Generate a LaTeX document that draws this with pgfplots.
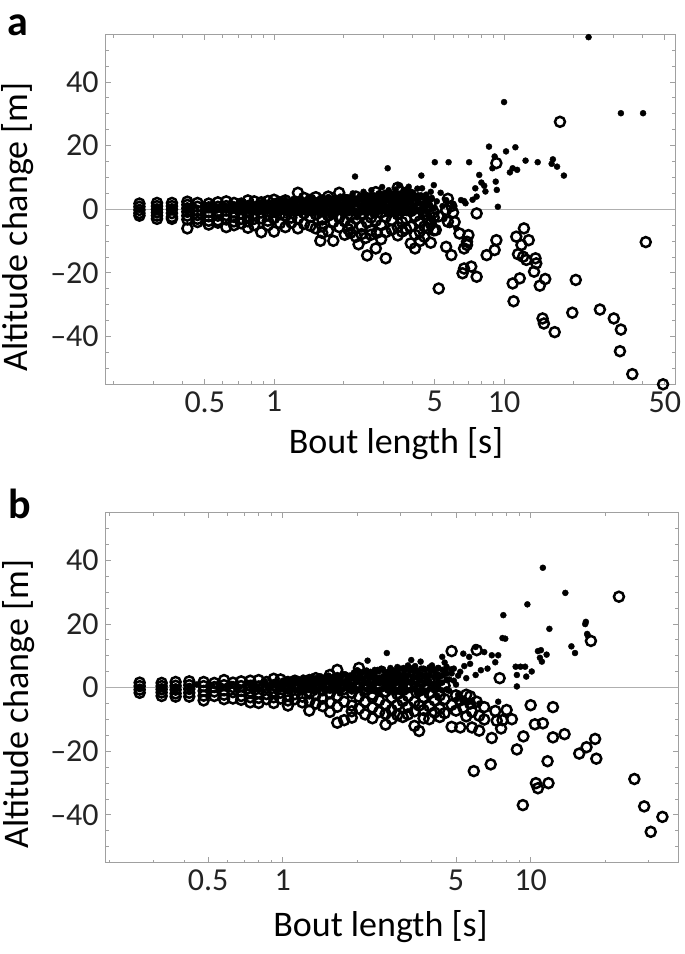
\documentclass[border=0pt]{standalone}
\usepackage{fontspec}
\setmainfont{Carlito}
\usepackage{pgfplots}
\pgfplotsset{compat=1.18}
\definecolor{framegray}{RGB}{160,160,160}
\definecolor{zerogray}{RGB}{175,175,175}
\definecolor{ticklab}{RGB}{35,35,35}
\begin{document}
\begin{tikzpicture}
\path[use as bounding box] (0,0) rectangle (342.5pt,-477pt);
\node[font=\bfseries\fontsize{21}{21}\selectfont, anchor=center] at (9pt,-12.5pt) {a};
\node[font=\bfseries\fontsize{21}{21}\selectfont, anchor=center] at (9.8pt,-252pt) {b};
% ---------------- panel a ----------------
\begin{axis}[scale only axis, height=175pt, width=284.7pt,
    at={(52.85pt,-17.15pt)}, anchor=north west,
    xmode=log, ymin=-55, ymax=55, xmin=0.1855, xmax=55.4,
    axis line style={framegray, line width=0.6pt},
    tick style={framegray, line width=0.5pt},
    tick align=inside,
    major tick length=2.7pt, minor tick length=1.6pt,
    xtick={0.5,1,5,10,50}, xticklabels={0.5,1,5,10,50},
    minor xtick={0.2,0.3,0.4,0.6,0.7,0.8,0.9,2,3,4,6,7,8,9,20,30,40},
    ytick={-40,-20,0,20,40}, yticklabels={\textendash40,\textendash20,0,20,40},
    minor ytick={-55,-50,-45,-35,-30,-25,-15,-10,-5,5,10,15,25,30,35,45,50,55},
    tick label style={font=\fontsize{16}{16}\selectfont, text=ticklab},
    label style={font=\fontsize{18}{18}\selectfont},
    xlabel={Bout length [s]}, ylabel={Altitude change [m]},
    ylabel style={at={(axis description cs:-0.154,0.450)}, anchor=center},
    xlabel style={at={(axis description cs:0.510,-0.199)}, anchor=base}]
\addplot[zerogray, line width=0.7pt, forget plot] coordinates {(0.01,0) (1000,0)};
\addplot[only marks, mark=o, mark size=2.5pt, mark options={line width=1.25pt, draw=black}] coordinates {
(0.26,1.8)(0.26,0.8)(0.26,-0.2)(0.26,-1.2)(0.26,-2.0)
(0.31,2.0)(0.31,1.0)(0.31,0.0)(0.31,-1.0)(0.31,-2.0)(0.31,-3.0)
(0.36,2.0)(0.36,1.0)(0.36,0.0)(0.36,-1.2)(0.36,-2.4)(0.36,-3.0)
(0.42,2.4)(0.42,1.4)(0.42,0.3)(0.42,-0.8)(0.42,-2.0)(0.42,-3.2)(0.42,-6.0)
(0.465,2.0)(0.465,0.8)(0.465,-0.5)(0.465,-1.8)(0.465,-3.0)(0.465,-4.0)
(0.52,1.8)(0.52,0.6)(0.52,-0.8)(0.52,-2.2)(0.52,-3.6)(0.52,-4.8)
(0.57,2.2)(0.57,0.8)(0.57,-0.6)(0.57,-2.0)(0.57,-3.5)(0.57,-4.2)
(0.62,2.5)(0.62,1.0)(0.62,-0.4)(0.62,-1.8)(0.62,-3.2)(0.62,-5.6)
(0.67,2.0)(0.67,0.6)(0.67,-1.0)(0.67,-2.4)(0.67,-3.8)(0.67,-5.0)
(0.72,1.8)(0.72,0.2)(0.72,-1.4)(0.72,-3.0)(0.72,-4.4)
(0.77,2.8)(0.77,1.0)(0.77,-0.6)(0.77,-2.2)(0.77,-3.8)(0.77,-5.8)
(0.82,2.5)(0.82,0.4)(0.82,-1.4)(0.82,-3.0)(0.82,-5.0)
(0.88,2.2)(0.88,0.6)(0.88,-1.0)(0.88,-2.8)(0.88,-7.2)
(0.94,2.6)(0.94,0.2)(0.94,-1.8)(0.94,-3.6)(0.94,-5.0)
(1.0,3.0)(1.0,1.0)(1.0,-0.8)(1.0,-2.8)(1.0,-7.0)
(1.06,2.2)(1.06,0.2)(1.06,-1.6)(1.06,-4.4)
(1.12,2.8)(1.12,0.6)(1.12,-2.0)(1.12,-5.6)
(1.19,1.6)(1.19,-0.4)(1.19,-2.6)(1.19,-4.2)
(1.27,5.2)(1.27,2.0)(1.27,-0.2)(1.27,-3.0)(1.27,-6.0)
(1.35,3.6)(1.35,0.8)(1.35,-1.2)(1.35,-4.6)
(1.44,3.0)(1.44,-0.2)(1.44,-2.4)(1.44,-5.2)
(1.52,3.8)(1.52,0.6)(1.52,-1.6)(1.52,-6.0)(1.59,-9.9)
(1.62,2.8)(1.62,-0.6)(1.62,-3.2)(1.62,-5.4)(1.62,-7.4)
(1.72,4.0)(1.72,1.0)(1.72,-2.0)(1.72,-6.8)
(1.81,2.4)(1.81,-1.2)(1.81,-4.0)(1.81,-9.9)
(1.92,5.2)(1.92,1.6)(1.92,-2.6)(1.92,-5.6)
(2.03,3.0)(2.03,-0.4)(2.03,-3.8)(2.03,-8.0)(2.1,-6.2)
(2.15,2.0)(2.15,-1.8)(2.15,-5.0)(2.15,-7.4)
(2.27,4.0)(2.27,0.4)(2.27,-3.0)(2.27,-8.6)(2.33,-11.0)
(2.4,2.6)(2.4,-1.4)(2.4,-5.4)(2.4,-7.8)
(2.54,3.4)(2.54,-0.2)(2.54,-4.2)(2.54,-14.5)(2.5,-9.0)
(2.64,1.0)(2.64,-2.6)(2.64,-6.6)(2.64,-8.0)
(2.77,5.4)(2.77,0.6)(2.77,-3.6)(2.77,-12.3)(2.8,-7.4)
(2.92,2.2)(2.92,-1.0)(2.92,-5.0)(2.92,-9.4)
(3.06,-15.4)(3.06,-2.4)(3.06,-7.2)(3.06,1.6)
(3.25,4.0)(3.25,0.2)(3.25,-3.4)(3.25,-6.4)
(3.45,6.8)(3.45,2.4)(3.45,-1.6)(3.45,-5.6)(3.45,-8.2)
(3.6,3.6)(3.6,-0.4)(3.6,-4.0)(3.6,-7.0)
(3.75,5.2)(3.75,1.2)(3.75,-3.0)(3.75,-6.2)
(3.93,4.6)(3.93,-0.6)(3.93,-10.7)(3.93,-5.4)
(4.1,2.6)(4.1,-2.2)(4.1,-12.3)(4.1,-8.0)
(4.3,1.0)(4.3,-3.8)(4.3,-7.0)(4.3,-10.0)
(4.5,3.0)(4.5,-1.6)(4.5,-5.4)(4.5,-8.6)
(4.67,0.6)(4.67,-3.2)(4.67,-6.0)
(4.8,2.0)(4.8,-4.6)(4.8,-10.5)
(4.95,-1.0)(4.95,-6.6)(4.95,-2.6)
(5.05,-6.5)(5.2,-24.9)(5.2,-2.2)(5.6,-0.2)(5.6,-11.8)(5.7,3.3)(5.7,-3.9)
(5.9,-14.4)(5.9,1.0)(6.0,-1.0)(6.1,-4.0)(6.4,-7.6)(6.6,-20.1)(6.7,-18.6)
(6.7,-12.3)(6.9,-11.2)(6.9,-10.2)(7.0,-8.1)(7.2,-18.0)(7.6,-21.2)(7.6,-1.3)
(8.4,-14.4)(9.1,-12.8)(9.26,-9.7)(9.26,14.5)(11.0,-28.9)(10.9,-23.3)
(11.3,-8.6)(11.5,-14.1)(11.7,-21.7)(11.9,-11.2)(12.1,-14.9)(12.2,-6.0)
(12.5,-15.9)(12.8,-9.7)(13.5,-19.6)(13.7,-15.4)(13.8,-17.0)(14.3,-24.0)
(14.7,-34.3)(14.9,-35.9)(15.1,-21.9)(16.6,-38.6)(17.5,27.5)(19.8,-32.5)
(20.5,-22.2)(26.1,-31.5)(30.0,-34.3)(32.2,-37.8)(31.9,-44.6)(36.1,-51.8)
(41.3,-10.3)(49.1,-55.0)
};
\addplot[only marks, mark=*, mark size=1.5pt, mark options={draw=black, fill=black, line width=0.2pt}] coordinates {
(0.26,0)(0.31,0.3)(0.31,-0.5)(0.36,0.5)(0.36,-0.3)(0.42,0.6)(0.42,-0.4)
(0.45,1)(0.5,1.5)(0.5,0.5)(0.55,1)(0.55,-0.5)(0.6,0)(0.6,1.5)(0.65,0.5)(0.65,2)
(0.7,1)(0.7,-0.5)(0.75,1.5)(0.75,-1)(0.8,0)(0.8,2)(0.85,1)(0.85,-0.8)(0.9,-0.5)
(0.9,1.5)(0.95,0.5)(0.95,2.2)(1.0,1)(1.0,-1)(1.05,2)(1.05,-0.3)(1.1,0)(1.1,1)
(1.15,-1.5)(1.15,2.2)(1.2,1.5)(1.2,0)(1.25,2.5)(1.25,0.5)(1.3,-1)(1.3,1)(1.35,0)
(1.35,2.8)(1.4,2)(1.45,-1)(1.45,1.5)(1.5,1)(1.5,3)(1.55,-0.5)(1.55,2)(1.6,2)
(1.65,0)(1.65,3.2)(1.7,1.5)(1.7,-0.8)(1.75,-2)(1.8,3)(1.8,1)(1.85,0.5)(1.9,2)
(1.9,-0.5)(1.95,-1)(2.0,4)(2.0,1)(2.0,-2)(2.1,2.5)(2.1,0.5)(2.15,0)(2.2,5)
(2.2,1.5)(2.25,10.3)(2.3,1.5)(2.3,-2.5)(2.35,3.5)(2.4,-1)(2.4,3)(2.45,5.5)
(2.5,2)(2.5,-0.5)(2.55,0.5)(2.6,4)(2.6,1.5)(2.65,6)(2.7,1)(2.7,-2)(2.75,3)
(2.8,-1)(2.8,2.5)(2.85,5)(2.9,2)(2.9,0)(2.95,7)(3.0,0.5)(3.0,3)(3.05,4)(3.1,-1.5)
(3.12,12.9)(3.15,6)(3.2,2.5)(3.2,5)(3.3,-0.5)(3.3,1.5)(3.35,5)(3.4,3)(3.4,-2)
(3.5,7.5)(3.5,4)(3.55,1)(3.6,4)(3.6,0.5)(3.7,6)(3.7,2.5)(3.75,2)(3.8,-1)(3.8,4.5)
(3.85,7.1)(3.9,3)(3.9,-1)(4.0,5)(4.0,1.5)(4.1,1)(4.2,6.5)(4.2,3)(4.3,0)(4.37,10.6)
(4.4,6.6)(4.4,-2.5)(4.5,2)(4.6,4)(4.6,1)(4.7,-2)(4.8,3)(4.8,5.5)(4.9,-4)(4.95,7.6)
(0.52,0.2)(0.54,1.8)(0.58,0.8)(0.62,-0.3)(0.66,1.2)(0.68,0.2)(0.72,2.2)(0.74,0.4)
(0.78,1)(0.8,-0.8)(0.83,1.6)(0.87,0.2)(0.89,2.4)(0.92,0.8)(0.97,-0.2)(0.99,1.8)
(1.03,0.6)(1.08,1.4)(1.09,-0.8)(1.13,0.4)(1.17,1.2)(1.22,-0.6)(1.24,1.8)(1.28,0.4)
(1.32,2.2)(1.37,-0.4)(1.39,1.2)(1.42,0.2)(1.47,2.4)(1.49,-1.4)(1.52,0.4)(1.57,1.2)
(1.58,-1.8)(1.62,0.6)(1.67,2.2)(1.69,-0.2)(1.73,3.8)(1.77,0.4)(1.79,2.2)(1.83,-1.2)
(1.87,2.8)(1.92,0.6)(1.97,3.4)(1.99,-0.4)(2.04,1.8)(2.08,3.2)(2.12,-1.2)(2.17,2.2)
(2.19,0.8)(2.24,3.2)(2.28,-0.6)(2.32,2.4)(2.37,0.8)(2.42,4.2)(2.44,0.2)(2.48,2.8)
(2.52,-1.6)(2.57,3.4)(2.62,0.2)(2.68,2.4)(2.72,4.4)(2.78,0.4)(2.82,1.6)(2.88,3.8)
(2.93,-0.6)(2.98,1.8)(3.03,5.2)(3.08,0.6)(3.13,2.8)(3.18,-0.8)(3.22,3.8)(3.28,0.8)
(3.32,2.2)(3.38,6.2)(3.43,0.2)(3.48,2.2)(3.52,-1.2)(3.58,3.2)(3.63,1.6)(3.68,4.6)
(3.73,-0.2)(3.78,1.4)(3.83,3.2)(3.88,5.6)(3.95,0.4)(4.05,3.2)(4.15,-0.6)(4.25,2.2)
(4.35,4.4)(4.45,0.6)(4.55,3)(4.65,-0.8)(4.75,1.4)(4.85,3.6)(4.92,0.2)
(5.0,14.8)(5.0,0.5)(5.1,2.5)(5.3,5.2)(5.4,1)(5.5,-3)(5.6,2.9)(5.74,14.8)(5.8,-5)
(6.0,1.5)(6.2,-6)(6.5,2.9)(6.7,2.6)(6.8,1.9)(7.05,14.8)(7.3,3)(7.5,6.6)(7.6,4.0)
(7.8,10.8)(7.97,8.4)(8.2,7.4)(8.3,5.6)(8.6,19.7)(8.9,12.9)(9.1,16.6)(9.2,8.7)
(9.3,6.1)(9.4,0.8)(10.0,33.7)(10.2,18.2)(10.6,11.6)(10.9,12.9)(11.2,19.5)
(11.4,12.4)(12.4,15.3)(14.0,14.8)(16.1,14.3)(16.3,15.7)(17.0,13.4)(18.2,10.6)
(23.3,54.1)(32.2,30.2)(40.2,30.2)
};
\addplot[only marks, mark=*, mark size=1.5pt, mark options={draw=black, fill=black, line width=0.2pt}] coordinates {
(0.50,-0.3)(0.50,1.2)(0.53,-0.1)(0.53,1.4)(0.56,-0.5)(0.56,1.0)(0.59,-0.2)(0.59,1.5)
(0.62,-0.4)(0.62,1.1)(0.65,-0.1)(0.65,1.6)(0.68,-0.6)(0.68,1.2)(0.71,-0.2)(0.71,1.4)
(0.74,-0.5)(0.74,1.0)(0.77,-0.1)(0.77,1.7)(0.81,-0.4)(0.81,1.2)(0.84,-0.2)(0.84,1.5)
(0.88,-0.6)(0.88,1.1)(0.92,-0.1)(0.92,1.6)(0.96,-0.4)(0.96,1.3)
(1.00,-0.6)(1.00,1.2)(1.00,2.6)(1.04,-0.2)(1.04,1.6)(1.04,2.2)(1.08,-0.9)(1.08,0.8)(1.08,2.8)
(1.12,-0.4)(1.12,1.4)(1.12,3.0)(1.17,-0.7)(1.17,1.0)(1.17,2.4)(1.21,-0.1)(1.21,1.8)(1.21,3.2)
(1.26,-0.8)(1.26,0.6)(1.26,2.8)(1.31,-0.3)(1.31,1.4)(1.31,3.4)(1.36,-1.0)(1.36,1.0)(1.36,2.6)
(1.42,-0.5)(1.42,1.6)(1.42,3.2)(1.47,-0.2)(1.47,0.8)(1.47,3.6)(1.53,-0.9)(1.53,1.2)(1.53,2.8)
(1.59,-0.4)(1.59,1.8)(1.59,3.4)(1.66,-1.1)(1.66,0.6)(1.66,3.0)(1.72,-0.6)(1.72,1.4)(1.72,3.8)
(1.79,-0.2)(1.79,1.0)(1.79,3.2)(1.86,-0.9)(1.86,1.8)(1.86,3.6)(1.94,-0.5)(1.94,1.2)(1.94,4.0)
(2.01,-1.2)(2.01,0.8)(2.01,3.2)(2.09,-0.3)(2.09,1.6)(2.09,3.8)(2.18,-0.8)(2.18,1.0)(2.18,4.2)
(2.26,-0.4)(2.26,2.0)(2.26,3.4)(2.35,-1.0)(2.35,1.2)(2.35,4.0)(2.45,-0.6)(2.45,1.8)(2.45,3.6)
(2.54,-0.2)(2.54,1.0)(2.54,4.4)(2.65,-1.1)(2.65,1.6)(2.65,3.8)(2.75,-0.5)(2.75,2.2)(2.75,4.2)
(2.86,-0.8)(2.86,1.2)(2.86,3.6)(2.97,-0.3)(2.97,1.8)(2.97,4.6)(3.09,-1.0)(3.09,1.0)(3.09,4.0)
(3.22,-0.6)(3.22,2.0)(3.22,4.4)(3.34,-0.2)(3.34,1.4)(3.34,3.8)(3.48,-0.9)(3.48,2.2)(3.48,4.8)
(3.62,-0.5)(3.62,1.2)(3.62,4.2)(3.76,-1.2)(3.76,1.8)(3.76,3.6)(3.91,-0.4)(3.91,2.4)(3.91,4.6)
(4.07,-0.8)(4.07,1.0)(4.07,4.0)(4.23,-0.3)(4.23,2.0)(4.23,4.4)(4.40,-1.0)(4.40,1.4)(4.40,3.8)
(4.58,-0.5)(4.58,2.2)(4.58,4.6)
};
\end{axis}
% ---------------- panel b ----------------
\begin{axis}[scale only axis, height=175pt, width=286.3pt,
    at={(52.85pt,-256.35pt)}, anchor=north west,
    xmode=log, ymin=-55, ymax=55, xmin=0.1933, xmax=39.4,
    axis line style={framegray, line width=0.6pt},
    tick style={framegray, line width=0.5pt},
    tick align=inside,
    major tick length=2.7pt, minor tick length=1.6pt,
    xtick={0.5,1,5,10}, xticklabels={0.5,1,5,10},
    minor xtick={0.2,0.3,0.4,0.6,0.7,0.8,0.9,2,3,4,6,7,8,9,20,30},
    ytick={-40,-20,0,20,40}, yticklabels={\textendash40,\textendash20,0,20,40},
    minor ytick={-55,-50,-45,-35,-30,-25,-15,-10,-5,5,10,15,25,30,35,45,50,55},
    tick label style={font=\fontsize{16}{16}\selectfont, text=ticklab},
    label style={font=\fontsize{18}{18}\selectfont},
    xlabel={Bout length [s]}, ylabel={Altitude change [m]},
    ylabel style={at={(axis description cs:-0.153,0.453)}, anchor=center},
    xlabel style={at={(axis description cs:0.480,-0.212)}, anchor=base}]
\addplot[zerogray, line width=0.7pt, forget plot] coordinates {(0.01,0) (1000,0)};
\addplot[only marks, mark=o, mark size=2.5pt, mark options={line width=1.25pt, draw=black}] coordinates {
(0.265,1.6)(0.265,0.5)(0.265,-0.6)(0.265,-1.6)
(0.325,1.5)(0.325,0.5)(0.325,-0.5)(0.325,-1.5)(0.325,-2.6)
(0.37,1.8)(0.37,0.6)(0.37,-0.6)(0.37,-1.8)(0.37,-2.8)
(0.42,2.0)(0.42,0.8)(0.42,-0.4)(0.42,-1.6)(0.42,-2.8)
(0.48,1.8)(0.48,0.5)(0.48,-1.0)(0.48,-2.5)(0.48,-4.0)
(0.53,1.5)(0.53,0.2)(0.53,-1.2)(0.53,-2.6)
(0.58,2.4)(0.58,0.8)(0.58,-0.8)(0.58,-2.2)(0.58,-3.6)
(0.63,1.6)(0.63,0.2)(0.63,-1.4)(0.63,-3.4)
(0.68,2.0)(0.68,0.5)(0.68,-1.0)(0.68,-2.6)(0.68,-3.8)
(0.74,2.2)(0.74,0.6)(0.74,-1.2)(0.74,-3.0)(0.74,-4.6)
(0.80,2.4)(0.80,0.4)(0.80,-1.6)(0.80,-3.2)(0.80,-4.8)
(0.86,1.8)(0.86,0.0)(0.86,-2.0)(0.86,-3.6)
(0.92,2.8)(0.92,0.8)(0.92,-1.2)(0.92,-3.0)(0.92,-4.8)
(0.98,2.6)(0.98,0.4)(0.98,-1.6)(0.98,-3.4)
(1.05,1.8)(1.05,-0.2)(1.05,-2.4)(1.05,-4.0)(1.05,-5.6)
(1.12,2.2)(1.12,0.2)(1.12,-2.0)(1.12,-3.6)
(1.2,1.6)(1.2,-0.6)(1.2,-2.8)(1.2,-4.6)
(1.28,2.4)(1.28,0.2)(1.28,-1.8)(1.28,-4.2)(1.28,-7.2)
(1.36,3.0)(1.36,0.6)(1.36,-2.2)(1.36,-5.0)
(1.45,2.0)(1.45,-0.8)(1.45,-3.4)(1.45,-5.8)
(1.55,4.0)(1.55,1.0)(1.55,-1.8)(1.55,-4.6)(1.55,-7.6)
(1.66,5.6)(1.66,1.8)(1.66,-2.6)(1.66,-6.0)(1.66,-11.0)
(1.77,3.2)(1.77,-0.4)(1.77,-4.4)(1.77,-10.2)
(1.9,2.4)(1.9,-1.6)(1.9,-5.6)(1.9,-9.4)(1.9,-7.4)
(2.03,6.2)(2.03,1.4)(2.03,-2.8)(2.03,-6.6)
(2.15,3.4)(2.15,-0.6)(2.15,-4.4)(2.15,-8.4)
(2.3,2.0)(2.3,-2.2)(2.3,-6.2)(2.3,-9.6)(2.3,-3.0)
(2.45,4.2)(2.45,0.4)(2.45,-4.0)(2.45,-7.6)
(2.6,2.6)(2.6,-1.2)(2.6,-5.4)(2.6,-11.6)(2.6,-8.2)
(2.75,3.4)(2.75,-3.2)(2.75,-7.0)(2.75,-9.8)
(2.9,1.4)(2.9,-2.0)(2.9,-5.4)(2.9,-8.6)
(3.05,2.8)(3.05,-0.8)(3.05,-4.2)(3.05,-9.2)
(3.2,-2.6)(3.2,-6.0)(3.2,-8.4)
(3.4,1.6)(3.4,-4.4)(3.4,-7.4)(3.4,-12.0)
(3.55,-1.0)(3.55,-5.6)(3.55,-13.6)
(3.7,-3.0)(3.7,-7.0)(3.7,-9.6)
(3.9,2.2)(3.9,-1.8)(3.9,-9.9)(3.9,-5.8)
(4.1,-4.0)(4.1,-7.8)(4.3,-2.4)(4.3,-6.6)(4.3,-9.2)
(4.5,0.6)(4.5,-3.6)(4.5,-8.0)(4.8,11.5)(4.8,-5.4)(4.8,-12.3)
(5.0,-2.4)(5.0,-7.2)(5.2,-12.5)(5.2,-4.0)(5.35,-6.3)(5.5,-9.0)(5.5,-2.2)
(5.7,-2.7)(5.7,-5.0)(5.8,-12.5)(5.8,-7.6)(5.9,-26.2)(6.06,11.8)(6.06,-4.4)
(6.2,-13.5)(6.2,-8.8)(6.5,-6.1)(6.5,-10.0)(6.9,-24.1)(6.97,-15.8)(7.2,-7.3)
(7.3,-10.4)(7.5,3.0)(7.7,-10.2)(7.6,-12.8)(8.0,-7.0)(8.4,-9.9)(8.8,-19.4)
(9.35,-15.3)(9.3,-36.9)(10.0,-5.5)(10.4,-11.5)(10.5,-30.0)(10.7,-31.6)
(11.2,-11.2)(11.7,-23.1)(11.8,-30.0)(12.3,-6.1)(12.3,-15.6)(13.7,-14.6)
(15.7,-20.7)(16.8,-18.7)(17.5,14.7)(18.2,-16.1)(18.4,-22.3)(22.7,28.6)
(26.2,-28.7)(28.7,-37.3)(30.5,-45.3)(34.0,-40.6)
};
\addplot[only marks, mark=*, mark size=1.5pt, mark options={draw=black, fill=black, line width=0.2pt}] coordinates {
(0.265,0)(0.325,0.3)(0.325,-0.4)(0.37,0.4)(0.37,-0.3)(0.42,0.5)(0.42,-0.5)
(0.45,1)(0.5,0.5)(0.55,1.2)(0.55,-0.4)(0.6,0)(0.65,1)(0.65,-0.6)(0.7,0.5)(0.75,1.5)
(0.75,-0.5)(0.8,-0.3)(0.85,1)(0.85,2)(0.9,0.2)(0.95,1.8)(0.95,-0.8)(1.0,0.5)
(1.0,-0.5)(1.05,1.5)(1.1,0)(1.1,2.6)(1.15,2)(1.15,-1)(1.2,0.8)(1.25,-0.6)(1.25,1.6)
(1.3,2.4)(1.35,1)(1.35,-1.5)(1.4,3.5)(1.45,0.2)(1.45,2.2)(1.5,2)(1.5,-0.6)(1.55,-1)
(1.55,3)(1.6,3)(1.6,0.8)(1.65,1)(1.7,2.5)(1.7,-1.8)(1.75,-0.5)(1.75,4.2)(1.8,4)
(1.8,1.2)(1.85,1.5)(1.9,3)(1.9,-1.2)(1.95,0)(2.0,2.2)(2.0,5.5)(2.05,5)(2.1,1)
(2.1,-2)(2.2,8.5)(2.2,3.5)(2.3,0.5)(2.35,4.5)(2.35,2)(2.4,2)(2.45,-1.5)(2.5,6)
(2.5,-0.5)(2.6,3)(2.6,0.8)(2.63,10.9)(2.7,1)(2.75,5)(2.8,2)(2.85,-1.5)(2.9,6.5)
(3.0,0.5)(3.05,4)(3.1,2.5)(3.15,-1)(3.2,7)(3.3,8.7)(3.35,1.5)(3.4,5)(3.5,3)(3.5,-2)
(3.6,8.2)(3.65,0.5)(3.7,6)(3.8,4)(3.8,-1.5)(3.9,2)(4.0,7)(4.1,5)(4.2,1)(4.2,-2.5)
(4.3,3.5)(4.4,9.7)(4.5,7.9)(4.55,5.5)(4.6,2.5)(4.7,-1)(4.8,4.5)(4.9,6)(5.0,1)
(0.52,0.8)(0.57,0.2)(0.62,1.2)(0.67,0.2)(0.72,1.6)(0.77,0.6)(0.82,1.4)(0.87,-0.2)
(0.92,1.2)(0.97,0.2)(1.02,1.8)(1.07,0.4)(1.12,1.2)(1.17,-0.4)(1.22,2.2)(1.27,0.6)
(1.32,1.4)(1.37,-0.6)(1.42,1.8)(1.47,0.8)(1.52,3.2)(1.57,0.6)(1.62,2.2)(1.67,-0.4)
(1.72,3.2)(1.77,1.4)(1.82,2.6)(1.87,0.2)(1.92,4.2)(1.97,1.6)(2.02,3.4)(2.07,0.2)
(2.12,2.8)(2.17,5.2)(2.22,1.2)(2.27,3.6)(2.32,-0.8)(2.37,2.6)(2.42,5.6)(2.47,1.4)
(2.52,3.2)(2.57,0.2)(2.62,4.4)(2.67,2.2)(2.72,6.2)(2.77,0.8)(2.82,3.6)(2.87,1.6)
(2.92,4.8)(2.97,-0.6)(3.02,2.4)(3.07,6.2)(3.12,0.8)(3.17,3.8)(3.22,1.8)(3.27,5.4)
(3.32,-0.4)(3.37,3.2)(3.42,6.8)(3.47,1.2)(3.52,4.6)(3.57,2.4)(3.62,-0.8)(3.67,3.6)
(3.72,5.8)(3.77,1.4)(3.85,3)(3.95,5.4)(4.05,0.6)(4.15,3.4)(4.25,6.2)(4.35,1.6)
(4.45,4)(4.6,-0.6)(4.7,2.6)(4.8,5.8)(4.9,2.2)(5.0,-3.8)(5.1,3.8)(5.3,-4)(5.4,6.8)
(5.6,-4.6)
(5.1,-2.2)(5.2,5)(5.35,10.7)(5.5,3)(5.65,9.7)(5.7,7.5)(5.8,-4.4)(6.0,12.8)(6.0,4)
(6.2,-5)(6.3,5.5)(6.5,11.2)(6.7,6)(6.97,10.2)(7.2,8)(7.4,10.2)(7.4,-4.4)(7.7,15.6)
(7.76,22.8)(7.9,15.4)(8.7,6.6)(8.8,4.0)(8.8,0.4)(9.1,6.6)(9.5,6.6)(9.6,3.5)(9.7,26.2)
(10.1,5.1)(10.7,11.5)(10.9,9.4)(11.0,11.8)(11.1,8.2)(11.2,37.7)(11.6,10.4)
(11.9,18.5)(13.8,29.8)(14.6,13.0)(15.1,10.9)(16.7,20.7)(16.6,20.0)(16.9,16.9)
(17.0,16.4)
};
\addplot[only marks, mark=*, mark size=1.5pt, mark options={draw=black, fill=black, line width=0.2pt}] coordinates {
(1.00,-0.4)(1.00,1.0)(1.00,2.2)(1.04,-0.8)(1.04,1.4)(1.04,2.6)(1.08,-0.2)(1.08,0.8)(1.08,2.4)
(1.12,-0.6)(1.12,1.6)(1.12,3.0)(1.17,-0.3)(1.17,1.0)(1.17,2.6)(1.21,-0.9)(1.21,1.8)(1.21,3.2)
(1.26,-0.4)(1.26,1.2)(1.26,2.8)(1.31,-0.1)(1.31,1.6)(1.31,3.4)(1.36,-0.7)(1.36,1.0)(1.36,3.0)
(1.42,-0.3)(1.42,2.0)(1.42,3.6)(1.47,-0.8)(1.47,1.4)(1.47,3.2)(1.53,-0.2)(1.53,1.8)(1.53,3.8)
(1.59,-0.6)(1.59,1.2)(1.59,3.4)(1.66,-0.9)(1.66,2.2)(1.66,4.0)(1.72,-0.4)(1.72,1.6)(1.72,3.6)
(1.79,-0.1)(1.79,2.0)(1.79,4.2)(1.86,-0.7)(1.86,1.4)(1.86,3.8)
(1.94,-0.4)(1.94,1.2)(1.94,3.0)(1.94,4.8)(2.01,-0.8)(2.01,1.8)(2.01,3.4)(2.01,5.2)
(2.09,-0.2)(2.09,1.0)(2.09,2.8)(2.09,4.6)(2.18,-0.6)(2.18,1.6)(2.18,3.6)(2.18,5.4)
(2.26,-0.9)(2.26,1.2)(2.26,3.0)(2.26,5.0)(2.35,-0.3)(2.35,2.0)(2.35,3.8)(2.35,5.6)
(2.45,-0.7)(2.45,1.4)(2.45,3.2)(2.45,5.2)(2.54,-0.4)(2.54,1.8)(2.54,3.6)(2.54,5.8)
(2.65,-0.9)(2.65,1.0)(2.65,3.0)(2.65,5.0)(2.75,-0.2)(2.75,2.2)(2.75,4.0)(2.75,5.6)
(2.86,-0.6)(2.86,1.4)(2.86,3.4)(2.86,5.4)(2.97,-1.0)(2.97,1.8)(2.97,3.8)(2.97,6.0)
(3.09,-0.4)(3.09,1.2)(3.09,3.2)(3.09,5.2)(3.22,-0.8)(3.22,2.0)(3.22,4.0)(3.22,5.8)
(3.34,-0.3)(3.34,1.6)(3.34,3.6)(3.34,6.2)(3.48,-0.9)(3.48,1.2)(3.48,3.4)(3.48,5.4)
(3.62,-0.5)(3.62,2.2)(3.62,4.2)(3.62,6.0)(3.76,-1.0)(3.76,1.4)(3.76,3.6)(3.76,5.6)
(3.91,-0.4)(3.91,1.8)(3.91,4.0)(3.91,6.4)(4.07,-0.8)(4.07,1.2)(4.07,3.4)(4.07,5.8)
(4.23,-0.3)(4.23,2.0)(4.23,4.2)(4.23,6.2)(4.40,-0.9)(4.40,1.6)(4.40,3.8)(4.40,5.6)
(4.58,-0.5)(4.58,2.4)(4.58,4.4)(4.58,6.6)
};
\end{axis}
\end{tikzpicture}
\end{document}
